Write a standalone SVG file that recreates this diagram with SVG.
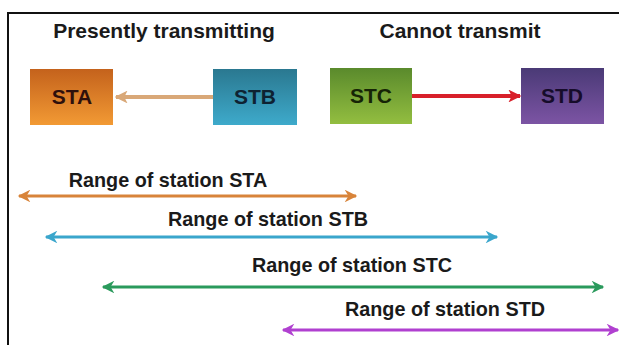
<svg xmlns="http://www.w3.org/2000/svg" width="619" height="345" viewBox="0 0 619 345">
<style>
.hdr{font-family:"Liberation Sans",Arial,sans-serif;font-weight:bold;font-size:21px;fill:#1a1a1a;text-anchor:middle}
.lbl{font-family:"Liberation Sans",Arial,sans-serif;font-weight:bold;font-size:21px;text-anchor:middle}
.rng{font-family:"Liberation Sans",Arial,sans-serif;font-weight:bold;font-size:19.8px;fill:#1a1a1a;text-anchor:middle}
.rl{fill:none;stroke-width:3}
</style>
<defs>
<linearGradient id="gA" x1="0" y1="0" x2="0" y2="1"><stop offset="0" stop-color="#c4621c"/><stop offset="1" stop-color="#f29a34"/></linearGradient>
<linearGradient id="gB" x1="0" y1="0" x2="0" y2="1"><stop offset="0" stop-color="#2a7890"/><stop offset="1" stop-color="#3eaacb"/></linearGradient>
<linearGradient id="gC" x1="0" y1="0" x2="0" y2="1"><stop offset="0" stop-color="#5a8a2c"/><stop offset="1" stop-color="#93be40"/></linearGradient>
<linearGradient id="gD" x1="0" y1="0" x2="0" y2="1"><stop offset="0" stop-color="#4a3a76"/><stop offset="1" stop-color="#7c54a4"/></linearGradient>
<marker id="mTan" viewBox="0 0 10 10" refX="9" refY="5" markerWidth="3.2" markerHeight="3.2" orient="auto-start-reverse" markerUnits="strokeWidth"><path d="M0,0 L10,5 L0,10 L2.5,5 z" fill="#d9a878"/></marker>
<marker id="mRed" viewBox="0 0 10 10" refX="9" refY="5" markerWidth="3.2" markerHeight="3.2" orient="auto-start-reverse" markerUnits="strokeWidth"><path d="M0,0 L10,5 L0,10 L2.5,5 z" fill="#d8202a"/></marker>
<marker id="mO" viewBox="0 0 10 10" refX="9" refY="5" markerWidth="4.8" markerHeight="4.2" orient="auto-start-reverse" markerUnits="strokeWidth"><path d="M0,0 L10,5 L0,10 L3,5 z" fill="#d8843a"/></marker>
<marker id="mB" viewBox="0 0 10 10" refX="9" refY="5" markerWidth="4.8" markerHeight="4.2" orient="auto-start-reverse" markerUnits="strokeWidth"><path d="M0,0 L10,5 L0,10 L3,5 z" fill="#3aa6cc"/></marker>
<marker id="mG" viewBox="0 0 10 10" refX="9" refY="5" markerWidth="4.8" markerHeight="4.2" orient="auto-start-reverse" markerUnits="strokeWidth"><path d="M0,0 L10,5 L0,10 L3,5 z" fill="#2a9a5c"/></marker>
<marker id="mP" viewBox="0 0 10 10" refX="9" refY="5" markerWidth="4.8" markerHeight="4.2" orient="auto-start-reverse" markerUnits="strokeWidth"><path d="M0,0 L10,5 L0,10 L3,5 z" fill="#b040d0"/></marker>
</defs>
<rect x="0" y="0" width="619" height="345" fill="#ffffff"/>
<path d="M8,345 L8,13 L619,13" fill="none" stroke="#111" stroke-width="2"/>
<text class="hdr" x="164" y="38">Presently transmitting</text>
<text class="hdr" x="460" y="38">Cannot transmit</text>
<g id="STA"><rect x="30" y="69" width="83" height="56" fill="url(#gA)"/><text class="lbl" x="72" y="104" fill="#2e100c">STA</text></g>
<g id="STB"><rect x="213" y="69" width="84" height="56" fill="url(#gB)"/><text class="lbl" x="255" y="104" fill="#0e2232">STB</text></g>
<g id="STC"><rect x="330" y="68" width="82" height="56" fill="url(#gC)"/><text class="lbl" x="371" y="103" fill="#162406">STC</text></g>
<g id="STD"><rect x="521" y="68" width="83" height="56" fill="url(#gD)"/><text class="lbl" x="562" y="103" fill="#160c2a">STD</text></g>
<g id="connectors">
<line x1="213" y1="97" x2="116" y2="97" stroke="#d9a878" stroke-width="4" marker-end="url(#mTan)"/>
<line x1="412" y1="96" x2="520" y2="96" stroke="#d8202a" stroke-width="4" marker-end="url(#mRed)"/>
<line class="rl" x1="19" y1="196" x2="356" y2="196" stroke="#d8843a" marker-start="url(#mO)" marker-end="url(#mO)"/>
<line class="rl" x1="46" y1="237" x2="497" y2="237" stroke="#3aa6cc" marker-start="url(#mB)" marker-end="url(#mB)"/>
<line class="rl" x1="103" y1="287" x2="603" y2="287" stroke="#2a9a5c" marker-start="url(#mG)" marker-end="url(#mG)"/>
<line class="rl" x1="283" y1="330" x2="618" y2="330" stroke="#b040d0" marker-start="url(#mP)" marker-end="url(#mP)"/>
</g>
<text class="rng" x="168" y="187">Range of station STA</text>
<text class="rng" x="268" y="226">Range of station STB</text>
<text class="rng" x="352" y="272">Range of station STC</text>
<text class="rng" x="445" y="316">Range of station STD</text>
</svg>
